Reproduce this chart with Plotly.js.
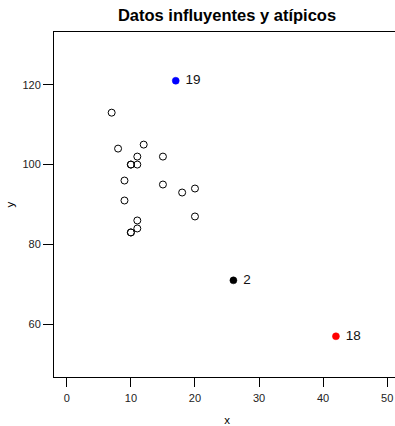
<!DOCTYPE html>
<html>
<head>
<meta charset="utf-8">
<script src="https://cdn.plot.ly/plotly-3.0.1.min.js"></script>
<style>
  html, body { margin: 0; padding: 0; overflow: hidden; background: #fff; }
  #chart { width: 400px; height: 426px; }
</style>
</head>
<body>
<div id="chart"></div>
<script>
// Observations: age at first word (x) and score (y)
const obsId = [1,2,3,4,5,6,7,8,9,10,11,12,13,14,15,16,17,18,19,20,21];
const xVals = [15,26,10,9,15,20,18,11,8,20,7,9,10,11,11,10,12,42,17,11,10];
const yVals = [95,71,83,91,102,87,93,100,104,94,113,96,83,84,102,100,105,57,121,86,100];

// Flagged observations and their fill colours
const flaggedIds = [19, 2, 18];
const flaggedColors = ['#0000ff', '#000000', '#ff0000'];

const xTicks = [0, 10, 20, 30, 40, 50];
const yTicks = [60, 80, 100, 120];

const baseFont = 'Liberation Sans, Arial, Helvetica, sans-serif';

const regX = [], regY = [];
obsId.forEach((id, i) => {
  if (!flaggedIds.includes(id)) { regX.push(xVals[i]); regY.push(yVals[i]); }
});

const traces = [{
  type: 'scatter', mode: 'markers',
  x: regX, y: regY,
  marker: { symbol: 'circle-open', size: 7, color: '#000', line: { width: 1, color: '#000' } },
  hoverinfo: 'x+y', showlegend: false
}];

flaggedIds.forEach((id, k) => {
  const i = obsId.indexOf(id);
  // filled dot
  traces.push({
    type: 'scatter', mode: 'markers',
    x: [xVals[i]], y: [yVals[i]],
    marker: { symbol: 'circle', size: 7, color: flaggedColors[k], line: { width: 0.5, color: flaggedColors[k] } },
    hoverinfo: 'x+y', showlegend: false
  });
  // id label to the right; a transparent wider marker sets the gap
  traces.push({
    type: 'scatter', mode: 'markers+text',
    x: [xVals[i]], y: [yVals[i]],
    text: [String(id)], textposition: 'middle right',
    textfont: { family: baseFont, size: 13.5, color: '#111' },
    marker: { size: 14, color: 'rgba(0,0,0,0)', line: { width: 0 } },
    hoverinfo: 'skip', showlegend: false
  });
});

const layout = {
  width: 400, height: 426,
  margin: { l: 54, r: 0, t: 32, b: 49, pad: 0 },
  paper_bgcolor: '#fff', plot_bgcolor: '#fff',
  font: { family: baseFont, size: 11, color: '#000' },
  title: {
    text: '<b>Datos influyentes y atípicos</b>',
    font: { family: baseFont, size: 16.5, color: '#000' },
    x: 0.5, xref: 'paper', y: 0.965, yref: 'container', yanchor: 'middle'
  },
  xaxis: {
    range: [-2, 52], tickvals: xTicks, ticktext: xTicks.map(String),
    showgrid: false, zeroline: false,
    showline: true, mirror: true, linecolor: '#000', linewidth: 1,
    ticks: 'outside', ticklen: 9, tickcolor: '#000', tickwidth: 1,
    ticklabelstandoff: 2,
    tickfont: { family: baseFont, size: 11, color: '#222' },
    title: { text: 'x', font: { family: baseFont, size: 11.5, color: '#000' }, standoff: 15 }
  },
  yaxis: {
    range: [46.8, 133.2], tickvals: yTicks, ticktext: yTicks.map(String),
    showgrid: false, zeroline: false,
    showline: true, mirror: true, linecolor: '#000', linewidth: 1,
    ticks: 'outside', ticklen: 10, tickcolor: '#000', tickwidth: 1,
    tickfont: { family: baseFont, size: 11, color: '#222' },
    title: { text: 'y', font: { family: baseFont, size: 11.5, color: '#000' }, standoff: 5 }
  }
};

Plotly.newPlot('chart', traces, layout, { displayModeBar: false, staticPlot: true });
</script>
</body>
</html>
